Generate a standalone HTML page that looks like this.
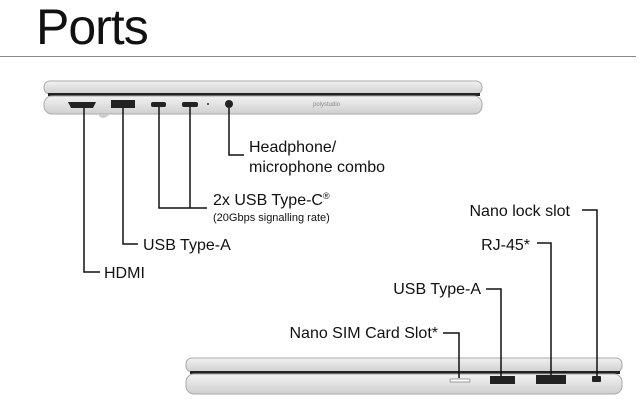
<!DOCTYPE html>
<html><head><style>
body{margin:0;background:#fff;}
svg{display:block;font-family:"Liberation Sans",sans-serif;}
</style></head><body>
<svg width="640" height="416" viewBox="0 0 640 416">
<defs>
<linearGradient id="g" x1="0" y1="0" x2="0" y2="1"><stop offset="0" stop-color="#f2f2f2"/><stop offset="1" stop-color="#cfcfcf"/></linearGradient>
</defs>
<text x="36" y="44" font-size="50" fill="#111" letter-spacing="-1">Ports</text>
<line x1="0" y1="56.5" x2="636" y2="56.5" stroke="#888" stroke-width="1"/>

<!-- top laptop -->
<rect x="44" y="81" width="438" height="13" rx="6" fill="url(#g)" stroke="#aaa"/>
<rect x="48" y="93" width="432" height="3" fill="#222"/>
<rect x="44" y="96" width="438" height="18" rx="8" fill="url(#g)" stroke="#aaa"/>
<path d="M98 114 q4 8 12 0z" fill="#ccc"/>
<path d="M68 102 h28 l-3 6 h-22z" fill="#222"/>
<rect x="111" y="100" width="24" height="8" fill="#222"/>
<rect x="151" y="102" width="15" height="5" rx="2" fill="#222"/>
<rect x="182" y="102" width="16" height="5" rx="2" fill="#222"/>
<circle cx="208" cy="104" r="1" fill="#333"/>
<circle cx="229" cy="104" r="4" fill="#222"/>
<text x="313" y="106" font-size="6" fill="#888">polystudio</text>
<g stroke="#111" stroke-width="1.5" fill="none">
<path d="M84 108 V272 H100"/>
<path d="M123 108 V244 H138"/>
<path d="M159 107 V208 H207 M190 107 V208"/>
<path d="M229 108 V155 H244"/>
</g>
<g font-size="16" fill="#111">
<text x="104" y="278">HDMI</text>
<text x="143" y="250">USB Type-A</text>
<text x="213" y="205">2x USB Type-C<tspan font-size="9" dy="-6">®</tspan></text>
<text x="213" y="221" font-size="11">(20Gbps signalling rate)</text>
<text x="249" y="152">Headphone/</text>
<text x="249" y="172">microphone combo</text>
</g>

<!-- bottom laptop -->
<rect x="186" y="358" width="436" height="14" rx="6" fill="url(#g)" stroke="#aaa"/>
<rect x="190" y="371" width="430" height="3" fill="#222"/>
<rect x="186" y="374" width="436" height="20" rx="8" fill="url(#g)" stroke="#aaa"/>
<rect x="450" y="379" width="20" height="3" rx="1" fill="#fff" stroke="#999"/>
<rect x="490" y="376" width="25" height="8" fill="#222"/>
<rect x="536" y="375" width="30" height="9" fill="#222"/>
<rect x="592" y="376" width="9" height="6" rx="1" fill="#222"/>
<g stroke="#111" stroke-width="1.5" fill="none">
<path d="M443 333 H459 V378"/>
<path d="M486 289 H501 V376"/>
<path d="M537 243 H551 V375"/>
<path d="M582 210 H597 V376"/>
</g>
<g font-size="16" fill="#111">
<text x="438" y="338" text-anchor="end">Nano SIM Card Slot*</text>
<text x="481" y="294" text-anchor="end">USB Type-A</text>
<text x="530" y="250" text-anchor="end">RJ-45*</text>
<text x="570" y="216" text-anchor="end">Nano lock slot</text>
</g>
</svg>
</body></html>
